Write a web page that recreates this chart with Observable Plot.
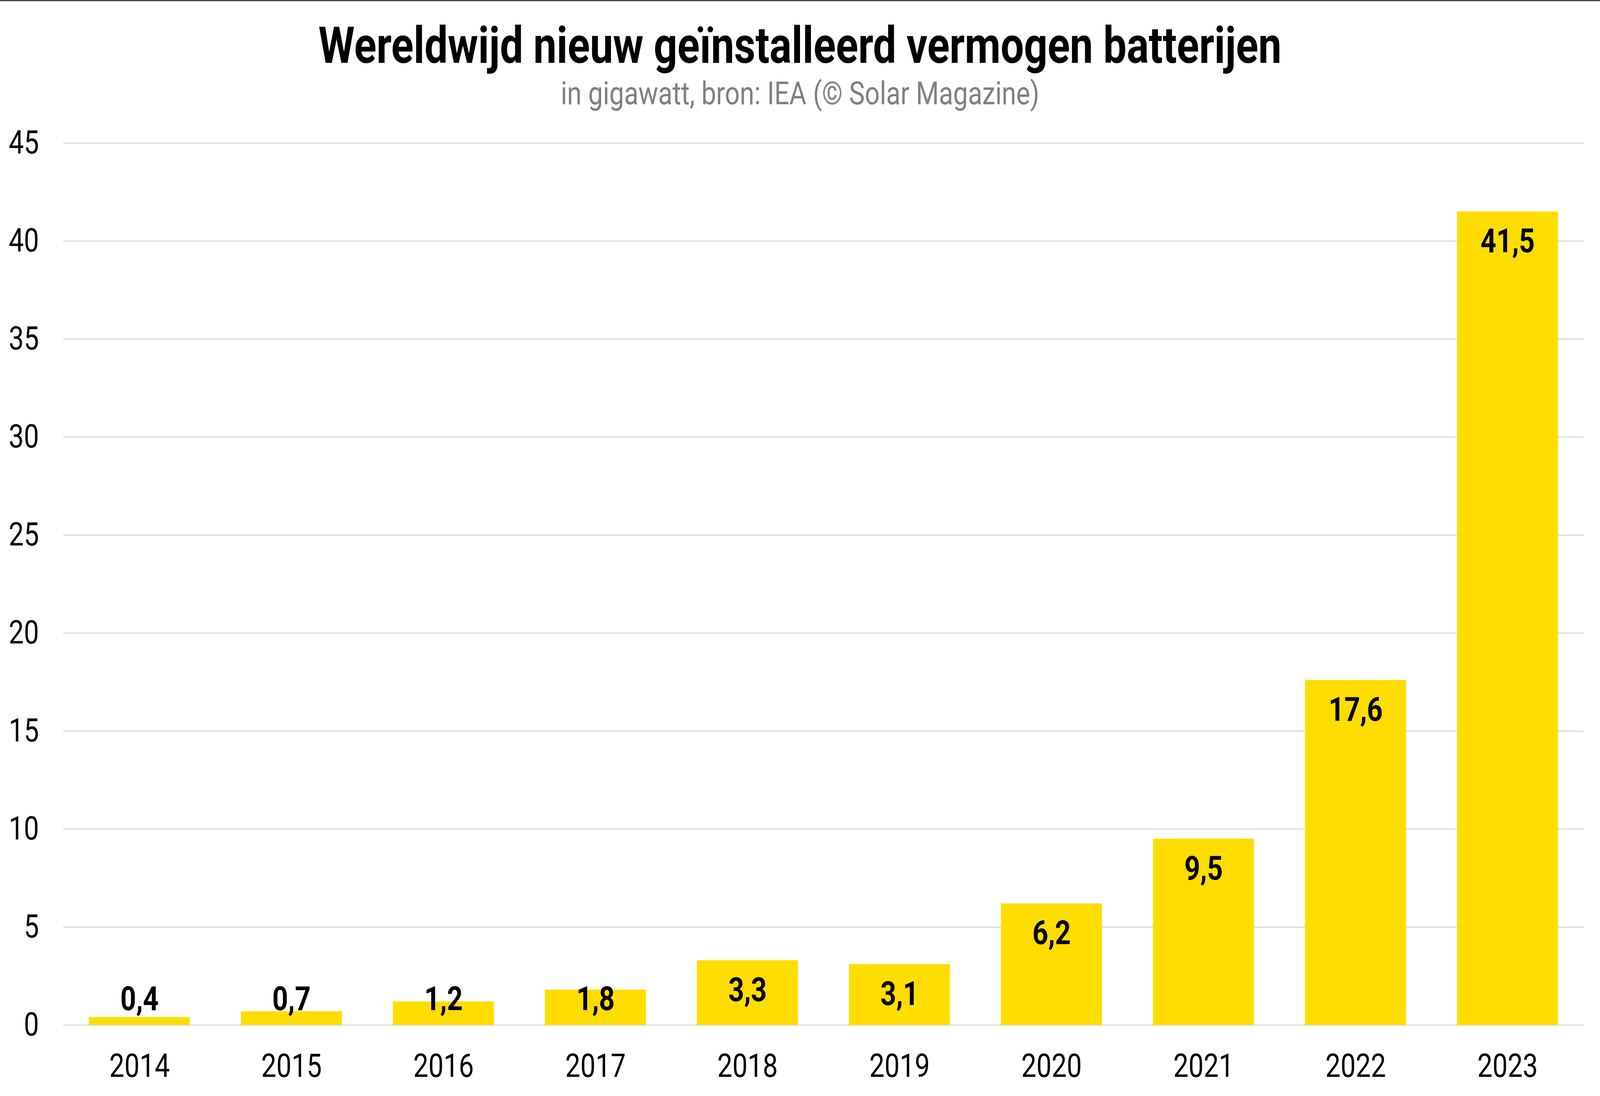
<!DOCTYPE html>
<html><head><meta charset="utf-8">
<script src="https://cdn.jsdelivr.net/npm/d3@7"></script>
<script src="https://cdn.jsdelivr.net/npm/@observablehq/plot@0.6"></script>
<style>
html,body{margin:0;padding:0;background:#fff;overflow:hidden}
#wrap{position:relative;width:100vw;height:100vh;overflow:hidden;background:#fff}
#page{position:absolute;left:0;top:0;width:4989px;height:2807px;font-family:Roboto,sans-serif;transform-origin:0 0;background:#fff}
#topline{position:absolute;left:0;top:0;width:4989px;height:3px;background:#444}
#head{height:300px;position:relative}
#title{position:absolute;left:0;right:0;top:52px;text-align:center;font-weight:700;font-size:129px;line-height:1;color:#000;white-space:nowrap}
#sub{position:absolute;left:0;right:0;top:198px;text-align:center;font-weight:400;font-size:82px;line-height:1;color:#808080;white-space:nowrap}
#chart svg{display:block;max-width:none !important}
</style></head>
<body>
<div id="wrap">
<div id="page">
<div id="topline"></div>
<div id="head">
  <div id="title">Wereldwijd nieuw geïnstalleerd vermogen batterijen</div>
  <div id="sub">in gigawatt, bron: IEA (© Solar Magazine)</div>
</div>
<div id="chart"></div>
</div>
</div>
<script>
const years = ["2014","2015","2016","2017","2018","2019","2020","2021","2022","2023"];
const values = [0.4, 0.7, 1.2, 1.8, 3.3, 3.1, 6.2, 9.5, 17.6, 41.5];
const yTicks = [0, 5, 10, 15, 20, 25, 30, 35, 40, 45];
const labelFloor = 2.85;

const data = years.map((year, i) => ({year, value: values[i]}));
const fmt = v => v.toFixed(1).replace(".", ",");

const chart = Plot.plot({
  width: 4989,
  height: 2507,
  marginTop: 66,
  marginBottom: 182,
  marginLeft: 197,
  marginRight: 51,
  style: {fontFamily: "Roboto, sans-serif", fontSize: "84px", color: "#000", background: "#fff"},
  x: {domain: years, paddingInner: 0.336, paddingOuter: 0.168, label: null},
  y: {domain: [0, 45], label: null},
  marks: [
    Plot.gridY(yTicks, {stroke: "#d9d9d9", strokeWidth: 3, strokeOpacity: 1}),
    Plot.barY(data, {x: "year", y: "value", fill: "#FFDD00"}),
    Plot.axisY(yTicks, {tickSize: 0, tickPadding: 76, fontSize: 84, label: null, tickFormat: d => String(d), fill: "#000"}),
    Plot.axisX({tickSize: 0, tickPadding: 73, fontSize: 84, label: null, fill: "#000"}),
    Plot.text(data, {
      x: "year",
      y: d => Math.max(d.value, labelFloor),
      text: d => fmt(d.value),
      lineAnchor: "top",
      dy: 43,
      fontWeight: 700,
      fontSize: 86,
      fill: "#000"
    })
  ]
});
document.getElementById("chart").appendChild(chart);

// The browser window may be narrower than the 4989×2807 design; fit the design to it.
function fit() {
  const kx = window.innerWidth / 4989;
  const ky = window.innerHeight / 2807;
  document.getElementById("page").style.transform = `scale(${kx}, ${ky})`;
}
fit();
window.addEventListener("resize", fit);
</script>
</body></html>
